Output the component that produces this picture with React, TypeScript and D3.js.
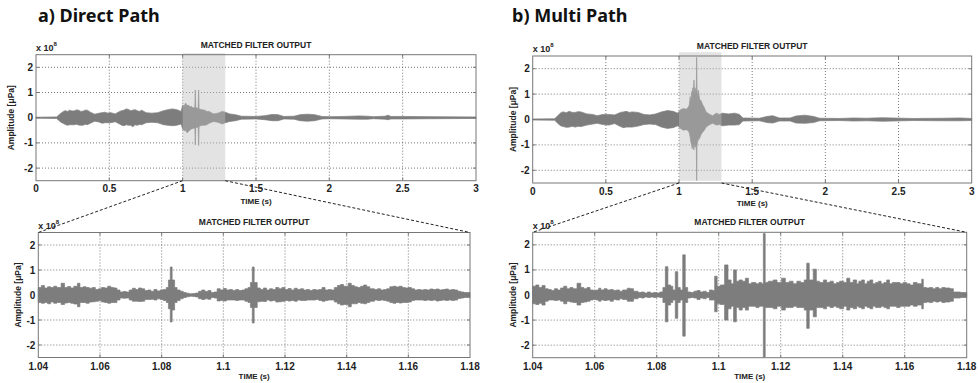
import React from "react";
import * as d3 from "d3";

type Env = [number, number, number]; // [time s, upper envelope, lower envelope] in units of 1e8 µPa

const caseTitles = ["a) Direct Path", "b) Multi Path"];
const panelTitle = "MATCHED FILTER OUTPUT";
const xLabel = "TIME (s)";
const yLabel = "Amplitude [\u03bcPa]";
const overviewDomain = [0, 3];
const zoomDomain = [1.04, 1.18];
const ampDomain = [-2.5, 2.5];
const shadeRange = [1.0, 1.29];
const overviewTicks = [0, 0.5, 1, 1.5, 2, 2.5, 3];
const overviewTickLabels = ["0", "0.5", "1", "1.5", "2", "2.5", "3"];
const zoomTicks = [1.04, 1.06, 1.08, 1.1, 1.12, 1.14, 1.16, 1.18];
const zoomTickLabels = ["1.04", "1.06", "1.08", "1.1", "1.12", "1.14", "1.16", "1.18"];
const ampTicks = [2, 1, 0, -1, -2];
const ampTickLabels = ["2", "1", "0", "-1", "-2"];

const directOverview: Env[] = [
  [0, 0.02, -0.02], [0.14, 0.03, -0.03], [0.17, 0.18, -0.18], [0.19, 0.26, -0.24], [0.2, 0.28, -0.27], [0.215, 0.25, -0.3], [0.23, 0.3, -0.28],
  [0.245, 0.27, -0.28], [0.26, 0.27, -0.28], [0.275, 0.31, -0.26], [0.29, 0.3, -0.29], [0.305, 0.25, -0.3], [0.32, 0.26, -0.3], [0.335, 0.3, -0.26], [0.35, 0.3, -0.28], [0.37, 0.22, -0.22],
  [0.4, 0.14, -0.14], [0.43, 0.18, -0.17], [0.45, 0.2, -0.22], [0.47, 0.22, -0.2], [0.49, 0.18, -0.2], [0.51, 0.2, -0.2], [0.54, 0.15, -0.16],
  [0.57, 0.25, -0.25], [0.585, 0.28, -0.3], [0.6, 0.3, -0.32], [0.615, 0.35, -0.28], [0.63, 0.33, -0.3], [0.645, 0.28, -0.3], [0.66, 0.3, -0.36], [0.675, 0.32, -0.28], [0.69, 0.28, -0.3],
  [0.705, 0.25, -0.27], [0.72, 0.3, -0.28], [0.75, 0.2, -0.2], [0.79, 0.18, -0.18], [0.83, 0.2, -0.2], [0.87, 0.28, -0.28],
  [0.9, 0.32, -0.3], [0.93, 0.35, -0.32], [0.96, 0.32, -0.3], [0.99, 0.25, -0.25], [1.0, 0.5, -0.45],
  [1.01, 0.45, -0.52], [1.02, 0.58, -0.5], [1.03, 0.48, -0.6], [1.04, 0.5, -0.55], [1.05, 0.42, -0.48], [1.06, 0.45, -0.45], [1.07, 0.38, -0.42], [1.08, 0.4, -0.42], [1.083, 0.4, -0.4],
  [1.086, 1.1, -1.08], [1.089, 0.4, -0.4], [1.1, 0.38, -0.38], [1.106, 0.36, -0.36], [1.109, 1.1, -1.1],
  [1.112, 0.35, -0.35], [1.13, 0.32, -0.3], [1.15, 0.3, -0.3], [1.165, 0.25, -0.28], [1.18, 0.25, -0.22], [1.21, 0.15, -0.15], [1.24, 0.18, -0.18],
  [1.27, 0.25, -0.25], [1.29, 0.22, -0.2], [1.32, 0.15, -0.15], [1.36, 0.12, -0.12], [1.4, 0.06, -0.06],
  [1.5, 0.05, -0.05], [1.56, 0.08, -0.08], [1.61, 0.13, -0.12], [1.65, 0.12, -0.12], [1.69, 0.05, -0.05],
  [1.76, 0.06, -0.06], [1.8, 0.12, -0.12], [1.85, 0.14, -0.14], [1.9, 0.12, -0.12], [1.95, 0.05, -0.05],
  [2.0, 0.04, -0.04], [2.1, 0.05, -0.05], [2.2, 0.07, -0.06], [2.26, 0.06, -0.06], [2.3, 0.04, -0.04],
  [2.38, 0.06, -0.06], [2.4, 0.1, -0.08], [2.42, 0.05, -0.05], [2.5, 0.05, -0.05], [2.7, 0.04, -0.04],
  [3.0, 0.03, -0.03],
];

const multiOverview: Env[] = [
  [0, 0.02, -0.02], [0.15, 0.03, -0.03], [0.18, 0.2, -0.2], [0.195, 0.28, -0.26], [0.21, 0.3, -0.28], [0.23, 0.27, -0.31], [0.25, 0.32, -0.3],
  [0.27, 0.28, -0.27], [0.29, 0.28, -0.3], [0.31, 0.31, -0.27], [0.33, 0.3, -0.28], [0.37, 0.22, -0.22], [0.41, 0.2, -0.18], [0.44, 0.15, -0.15],
  [0.48, 0.2, -0.2], [0.52, 0.2, -0.22], [0.56, 0.18, -0.16], [0.6, 0.28, -0.28], [0.62, 0.3, -0.32], [0.64, 0.32, -0.3],
  [0.66, 0.28, -0.3], [0.68, 0.3, -0.3], [0.72, 0.28, -0.26], [0.76, 0.2, -0.2], [0.8, 0.18, -0.18], [0.84, 0.22, -0.2],
  [0.88, 0.3, -0.3], [0.92, 0.35, -0.35], [0.96, 0.32, -0.32], [0.99, 0.25, -0.25], [1.01, 0.38, -0.35],
  [1.03, 0.43, -0.42], [1.05, 0.4, -0.4], [1.065, 0.5, -0.45], [1.071, 0.6, -0.55], [1.076, 0.9, -0.7],
  [1.081, 0.7, -0.9], [1.086, 1.1, -1.0], [1.09, 0.9, -1.15], [1.094, 1.25, -0.95], [1.098, 1.0, -1.1],
  [1.102, 1.55, -1.2], [1.106, 1.1, -0.9], [1.11, 1.25, -1.1], [1.115, 1.0, -1.0], [1.118, 1.2, -1.0],
  [1.1205, 2.45, -2.4], [1.123, 1.2, -1.0], [1.128, 0.9, -0.85], [1.133, 1.15, -0.8], [1.14, 0.8, -0.75],
  [1.15, 0.75, -0.6], [1.16, 0.6, -0.5], [1.17, 0.5, -0.45], [1.185, 0.3, -0.3], [1.21, 0.2, -0.2],
  [1.23, 0.15, -0.15], [1.255, 0.25, -0.22], [1.275, 0.2, -0.2], [1.295, 0.25, -0.25], [1.34, 0.22, -0.22],
  [1.38, 0.25, -0.22], [1.413, 0.2, -0.2], [1.435, 0.06, -0.06], [1.55, 0.05, -0.05], [1.6, 0.12, -0.12],
  [1.64, 0.15, -0.14], [1.686, 0.06, -0.06], [1.76, 0.06, -0.06], [1.8, 0.14, -0.14], [1.86, 0.17, -0.15],
  [1.92, 0.12, -0.12], [1.96, 0.05, -0.05], [2.1, 0.04, -0.04], [2.19, 0.06, -0.06], [2.28, 0.05, -0.05],
  [2.39, 0.07, -0.07], [2.46, 0.06, -0.06], [2.6, 0.04, -0.04], [2.8, 0.05, -0.05], [2.92, 0.06, -0.05],
  [3.0, 0.04, -0.04],
];

const directZoom: Env[] = [
  [1.04, 0.3, -0.3], [1.041, 0.38, -0.33], [1.042, 0.28, -0.3], [1.043, 0.33, -0.35], [1.044, 0.3, -0.28],
  [1.045, 0.35, -0.33], [1.046, 0.3, -0.3], [1.0474, 0.47, -0.38], [1.0485, 0.3, -0.32], [1.0495, 0.34, -0.3],
  [1.0505, 0.28, -0.33], [1.0515, 0.35, -0.36], [1.0527, 0.47, -0.47], [1.0535, 0.3, -0.3], [1.0545, 0.33, -0.3],
  [1.0555, 0.3, -0.33], [1.0565, 0.27, -0.28], [1.0575, 0.3, -0.27], [1.0585, 0.22, -0.25], [1.0595, 0.25, -0.22],
  [1.0605, 0.3, -0.28], [1.0615, 0.28, -0.3], [1.0625, 0.35, -0.33], [1.0635, 0.3, -0.3], [1.0645, 0.28, -0.3],
  [1.0655, 0.2, -0.2], [1.0665, 0.12, -0.12], [1.0675, 0.14, -0.13], [1.0685, 0.12, -0.12], [1.0695, 0.2, -0.2],
  [1.0705, 0.27, -0.25], [1.0715, 0.22, -0.25], [1.0725, 0.28, -0.26], [1.0735, 0.25, -0.25], [1.0745, 0.18, -0.18],
  [1.0755, 0.2, -0.18], [1.0765, 0.15, -0.17], [1.0775, 0.22, -0.2], [1.0785, 0.16, -0.15], [1.0795, 0.2, -0.18],
  [1.0805, 0.22, -0.22], [1.0815, 0.3, -0.3], [1.0822, 0.6, -0.55], [1.0828, 1.12, -1.08], [1.0834, 0.6, -0.6],
  [1.0842, 0.3, -0.3], [1.085, 0.2, -0.22], [1.086, 0.15, -0.15], [1.087, 0.1, -0.1], [1.088, 0.07, -0.07],
  [1.089, 0.05, -0.05], [1.09, 0.06, -0.06], [1.091, 0.08, -0.08], [1.092, 0.15, -0.15], [1.093, 0.2, -0.18],
  [1.094, 0.14, -0.15], [1.095, 0.18, -0.17], [1.096, 0.1, -0.1], [1.097, 0.12, -0.12], [1.098, 0.25, -0.24],
  [1.099, 0.2, -0.22], [1.1, 0.26, -0.24], [1.101, 0.2, -0.2], [1.102, 0.22, -0.2], [1.103, 0.18, -0.2],
  [1.104, 0.22, -0.22], [1.105, 0.18, -0.2], [1.106, 0.2, -0.2], [1.107, 0.25, -0.25], [1.108, 0.3, -0.3],
  [1.1088, 0.5, -0.5], [1.1094, 1.12, -1.12], [1.11, 0.5, -0.5], [1.111, 0.28, -0.27], [1.112, 0.22, -0.25],
  [1.113, 0.28, -0.26], [1.114, 0.2, -0.2], [1.115, 0.25, -0.24], [1.116, 0.22, -0.22], [1.117, 0.3, -0.28],
  [1.118, 0.25, -0.27], [1.119, 0.3, -0.25], [1.12, 0.22, -0.22], [1.121, 0.26, -0.24], [1.122, 0.2, -0.22],
  [1.123, 0.27, -0.25], [1.124, 0.22, -0.2], [1.125, 0.25, -0.22], [1.126, 0.2, -0.22], [1.127, 0.22, -0.2],
  [1.128, 0.18, -0.2], [1.129, 0.22, -0.2], [1.13, 0.2, -0.18], [1.131, 0.22, -0.22], [1.132, 0.3, -0.25],
  [1.133, 0.2, -0.22], [1.134, 0.22, -0.2], [1.135, 0.2, -0.2], [1.136, 0.3, -0.28], [1.137, 0.38, -0.35],
  [1.138, 0.42, -0.4], [1.139, 0.35, -0.38], [1.1405, 0.47, -0.47], [1.1415, 0.38, -0.35], [1.1425, 0.33, -0.35],
  [1.1435, 0.3, -0.3], [1.1445, 0.35, -0.33], [1.1455, 0.4, -0.35], [1.1465, 0.33, -0.3], [1.1475, 0.25, -0.25],
  [1.149, 0.22, -0.2], [1.15, 0.25, -0.22], [1.151, 0.2, -0.2], [1.152, 0.22, -0.22], [1.153, 0.25, -0.25],
  [1.154, 0.33, -0.3], [1.155, 0.35, -0.33], [1.156, 0.32, -0.3], [1.157, 0.35, -0.32], [1.158, 0.3, -0.3],
  [1.159, 0.28, -0.3], [1.16, 0.3, -0.28], [1.161, 0.25, -0.22], [1.162, 0.2, -0.2], [1.163, 0.22, -0.2],
  [1.164, 0.2, -0.2], [1.165, 0.22, -0.22], [1.166, 0.2, -0.2], [1.167, 0.24, -0.22], [1.168, 0.22, -0.2],
  [1.169, 0.24, -0.24], [1.17, 0.2, -0.22], [1.171, 0.22, -0.2], [1.172, 0.24, -0.22], [1.173, 0.2, -0.2],
  [1.174, 0.22, -0.22], [1.175, 0.2, -0.2], [1.176, 0.15, -0.14], [1.177, 0.12, -0.12], [1.178, 0.1, -0.1],
  [1.18, 0.1, -0.1],
];

const multiZoom: Env[] = [
  [1.04, 0.35, -0.35], [1.041, 0.4, -0.38], [1.042, 0.3, -0.33], [1.043, 0.38, -0.4], [1.044, 0.25, -0.25],
  [1.045, 0.22, -0.2], [1.046, 0.18, -0.2], [1.047, 0.25, -0.22], [1.048, 0.2, -0.2], [1.049, 0.28, -0.25],
  [1.05, 0.35, -0.35], [1.051, 0.25, -0.25], [1.052, 0.3, -0.28], [1.053, 0.25, -0.3], [1.0543, 0.47, -0.4],
  [1.0555, 0.3, -0.3], [1.0565, 0.25, -0.28], [1.0575, 0.3, -0.25], [1.0585, 0.2, -0.2], [1.0595, 0.18, -0.18],
  [1.0605, 0.2, -0.2], [1.0613, 0.27, -0.25], [1.062, 0.2, -0.2], [1.063, 0.25, -0.22], [1.064, 0.2, -0.2],
  [1.065, 0.22, -0.25], [1.066, 0.18, -0.18], [1.067, 0.2, -0.2], [1.068, 0.15, -0.15], [1.069, 0.2, -0.18],
  [1.0705, 0.27, -0.25], [1.0715, 0.25, -0.25], [1.0725, 0.15, -0.15], [1.074, 0.1, -0.1], [1.075, 0.12, -0.12],
  [1.076, 0.08, -0.08], [1.077, 0.12, -0.1], [1.078, 0.08, -0.08], [1.079, 0.1, -0.1], [1.08, 0.08, -0.08],
  [1.081, 0.12, -0.1], [1.082, 0.3, -0.3], [1.0828, 1.13, -1.07], [1.0836, 0.4, -0.4], [1.0845, 0.35, -0.3],
  [1.0852, 0.2, -0.2], [1.086, 0.93, -0.93], [1.0868, 0.3, -0.3], [1.0876, 0.2, -0.2], [1.0884, 1.6, -1.64],
  [1.0892, 0.3, -0.3], [1.09, 0.12, -0.12], [1.091, 0.1, -0.1], [1.092, 0.15, -0.12], [1.093, 0.18, -0.18],
  [1.094, 0.12, -0.12], [1.095, 0.15, -0.15], [1.096, 0.1, -0.1], [1.097, 0.2, -0.2], [1.098, 0.18, -0.2],
  [1.0987, 0.75, -0.67], [1.0995, 0.35, -0.35], [1.1005, 0.4, -0.38], [1.1019, 1.2, -1.0], [1.103, 0.6, -0.55],
  [1.104, 0.45, -0.45], [1.1048, 1.0, -1.07], [1.1057, 0.55, -0.5], [1.1066, 0.6, -0.6], [1.1076, 0.55, -0.5],
  [1.1086, 0.67, -0.6], [1.1096, 0.45, -0.45], [1.1106, 0.5, -0.45], [1.112, 0.45, -0.5], [1.113, 0.5, -0.45],
  [1.1138, 0.45, -0.45], [1.1144, 2.45, -2.47], [1.115, 0.5, -0.5], [1.116, 0.55, -0.5], [1.1176, 0.6, -0.55],
  [1.1188, 0.5, -0.45], [1.1203, 0.67, -0.6], [1.1215, 0.5, -0.5], [1.1228, 0.55, -0.5], [1.124, 0.45, -0.45],
  [1.1252, 0.55, -0.5], [1.1264, 0.5, -0.5], [1.1276, 0.6, -0.6], [1.1284, 1.27, -1.33], [1.1292, 0.6, -0.6],
  [1.1305, 1.03, -0.87], [1.1315, 0.55, -0.5], [1.1325, 0.5, -0.5], [1.1338, 0.6, -0.55], [1.1348, 0.5, -0.45],
  [1.1359, 0.55, -0.5], [1.137, 0.45, -0.45], [1.138, 0.5, -0.5], [1.139, 0.55, -0.55], [1.1403, 0.5, -0.45],
  [1.1413, 0.67, -0.6], [1.1423, 0.5, -0.5], [1.1434, 0.6, -0.55], [1.1445, 0.45, -0.45], [1.1452, 0.55, -0.5],
  [1.1461, 0.6, -0.55], [1.147, 0.45, -0.45], [1.1479, 0.55, -0.5], [1.1488, 0.6, -0.55], [1.1497, 0.45, -0.45],
  [1.1506, 0.5, -0.5], [1.1515, 0.55, -0.5], [1.1524, 0.45, -0.45], [1.1533, 0.5, -0.5], [1.1542, 0.6, -0.55],
  [1.1551, 0.45, -0.45], [1.156, 0.5, -0.45], [1.1574, 0.5, -0.5], [1.1585, 0.45, -0.45], [1.1595, 0.5, -0.45],
  [1.1606, 0.45, -0.45], [1.1617, 0.4, -0.4], [1.1628, 0.5, -0.45], [1.164, 0.45, -0.4], [1.1655, 0.63, -0.55],
  [1.166, 0.3, -0.3], [1.167, 0.28, -0.28], [1.168, 0.3, -0.3], [1.169, 0.25, -0.25], [1.17, 0.3, -0.28],
  [1.171, 0.25, -0.25], [1.172, 0.3, -0.3], [1.173, 0.28, -0.28], [1.1746, 0.25, -0.25], [1.1757, 0.12, -0.12],
  [1.178, 0.1, -0.1], [1.18, 0.1, -0.1],
];

const FONT = "'Liberation Sans', Arial, sans-serif";
const SIGNAL = "#7d7d7d";

type Box = { left: number; right: number; top: number; bottom: number };

type PanelProps = {
  box: Box;
  domain: number[];
  ticks: number[];
  tickLabels: string[];
  data: Env[];
  step?: boolean;
  shade?: number[];
  shadeY?: number[];
  yLabelX: number;
  tickY: number;
  xLabelY: number;
  titleY: number;
  expY: number;
};

function Panel(p: PanelProps) {
  const { box } = p;
  const x = d3.scaleLinear().domain(p.domain).range([box.left, box.right]);
  const y = d3.scaleLinear().domain(ampDomain).range([box.bottom, box.top]);
  const area = d3
    .area<Env>()
    .curve(p.step ? d3.curveStepAfter : d3.curveLinear)
    .x((d) => x(d[0]))
    .y0((d) => y(d[2]))
    .y1((d) => y(d[1]));
  const path = area(p.data) || "";
  const cx = (box.left + box.right) / 2;
  const cy = (box.top + box.bottom) / 2;
  const innerX = p.ticks.filter((t) => t > p.domain[0] && t < p.domain[1]);
  return (
    <g>
      {innerX.map((t, i) => (
        <line key={"gx" + i} x1={x(t)} x2={x(t)} y1={box.top} y2={box.bottom} stroke="#555" strokeWidth={0.8} strokeDasharray="1,2" />
      ))}
      {ampTicks.map((t, i) => (
        <line key={"gy" + i} x1={box.left} x2={box.right} y1={y(t)} y2={y(t)} stroke="#555" strokeWidth={0.8} strokeDasharray="1,2" />
      ))}
      <path d={path} fill={SIGNAL} stroke={SIGNAL} strokeWidth={0.7} strokeLinejoin="miter" />
      {p.shade && p.shadeY && (
        <rect
          x={x(p.shade[0])}
          width={x(p.shade[1]) - x(p.shade[0])}
          y={y(p.shadeY[1])}
          height={y(p.shadeY[0]) - y(p.shadeY[1])}
          fill="#bdbdbd"
          fillOpacity={0.43}
        />
      )}
      <rect x={box.left} y={box.top} width={box.right - box.left} height={box.bottom - box.top} fill="none" stroke="#777" strokeWidth={1} />
      {innerX.map((t, i) => (
        <g key={"tx" + i}>
          <line x1={x(t)} x2={x(t)} y1={box.bottom} y2={box.bottom - 3} stroke="#777" />
          <line x1={x(t)} x2={x(t)} y1={box.top} y2={box.top + 3} stroke="#777" />
        </g>
      ))}
      {ampTicks.map((t, i) => (
        <g key={"ty" + i}>
          <line x1={box.left} x2={box.left + 3} y1={y(t)} y2={y(t)} stroke="#777" />
          <line x1={box.right} x2={box.right - 3} y1={y(t)} y2={y(t)} stroke="#777" />
        </g>
      ))}
      {p.ticks.map((t, i) => (
        <text key={"lx" + i} x={x(t)} y={p.tickY} textAnchor="middle" fontFamily={FONT} fontWeight="bold" fontSize={10} fill="#222">
          {p.tickLabels[i]}
        </text>
      ))}
      {ampTicks.map((t, i) => (
        <text key={"ly" + i} x={box.left - 3} y={y(t) + 3.5} textAnchor="end" fontFamily={FONT} fontWeight="bold" fontSize={10} fill="#222">
          {ampTickLabels[i]}
        </text>
      ))}
      <text x={cx} y={p.titleY} textAnchor="middle" fontFamily={FONT} fontWeight="bold" fontSize={8.5} fill="#222">
        {panelTitle}
      </text>
      <text x={cx} y={p.xLabelY} textAnchor="middle" fontFamily={FONT} fontWeight="bold" fontSize={8} fill="#222">
        {xLabel}
      </text>
      <text
        transform={`translate(${p.yLabelX},${cy}) rotate(-90)`}
        textAnchor="middle"
        fontFamily={FONT}
        fontWeight="bold"
        fontSize={8.5}
        fill="#222"
      >
        {yLabel}
      </text>
      <text x={box.left} y={p.expY} fontFamily={FONT} fontWeight="bold" fontSize={9} fill="#222">
        x 10
        <tspan dy={-5} fontSize={6}>8</tspan>
      </text>
    </g>
  );
}

function Connector({ top, topDomain, shade, bottom }: { top: Box; topDomain: number[]; shade: number[]; bottom: Box }) {
  const x = d3.scaleLinear().domain(topDomain).range([top.left, top.right]);
  return (
    <g stroke="#222" strokeWidth={1} strokeDasharray="3,2">
      <line x1={x(shade[0])} y1={top.bottom} x2={bottom.left} y2={bottom.top} />
      <line x1={x(shade[1])} y1={top.bottom} x2={bottom.right} y2={bottom.top} />
    </g>
  );
}

export default function App() {
  const tl: Box = { left: 36, right: 476, top: 54.7, bottom: 180.7 };
  const tr: Box = { left: 532.7, right: 971.7, top: 56, bottom: 183 };
  const bl: Box = { left: 38.3, right: 470, top: 232.5, bottom: 357.5 };
  const br: Box = { left: 532.7, right: 966.7, top: 232.3, bottom: 357.7 };
  return (
    <svg width={978} height={383} style={{ position: "absolute", left: 0, top: 0, background: "#fff" }}>
      <rect x={0} y={0} width={978} height={383} fill="#fff" />
      <text x={38} y={22} fontFamily="'Noto Sans', sans-serif" fontWeight="bold" fontSize={18} fill="#111">
        {caseTitles[0]}
      </text>
      <text x={512} y={22} fontFamily="'Noto Sans', sans-serif" fontWeight="bold" fontSize={18} fill="#111">
        {caseTitles[1]}
      </text>
      <Panel box={tl} domain={overviewDomain} ticks={overviewTicks} tickLabels={overviewTickLabels} data={directOverview}
        shade={shadeRange} shadeY={[-2.48, 2.56]} yLabelX={14} tickY={192} xLabelY={203.5} titleY={47.5} expY={50.5} />
      <Panel box={tr} domain={overviewDomain} ticks={overviewTicks} tickLabels={overviewTickLabels} data={multiOverview}
        shade={shadeRange} shadeY={[-2.41, 2.65]} yLabelX={516} tickY={195} xLabelY={206} titleY={49} expY={51.7} />
      <Panel box={bl} domain={zoomDomain} ticks={zoomTicks} tickLabels={zoomTickLabels} data={directZoom} step
        yLabelX={21} tickY={369.5} xLabelY={378.5} titleY={225} expY={229} />
      <Panel box={br} domain={zoomDomain} ticks={zoomTicks} tickLabels={zoomTickLabels} data={multiZoom} step
        yLabelX={516} tickY={369.5} xLabelY={378.5} titleY={225} expY={229} />
      <Connector top={tl} topDomain={overviewDomain} shade={shadeRange} bottom={bl} />
      <Connector top={tr} topDomain={overviewDomain} shade={shadeRange} bottom={br} />
    </svg>
  );
}
